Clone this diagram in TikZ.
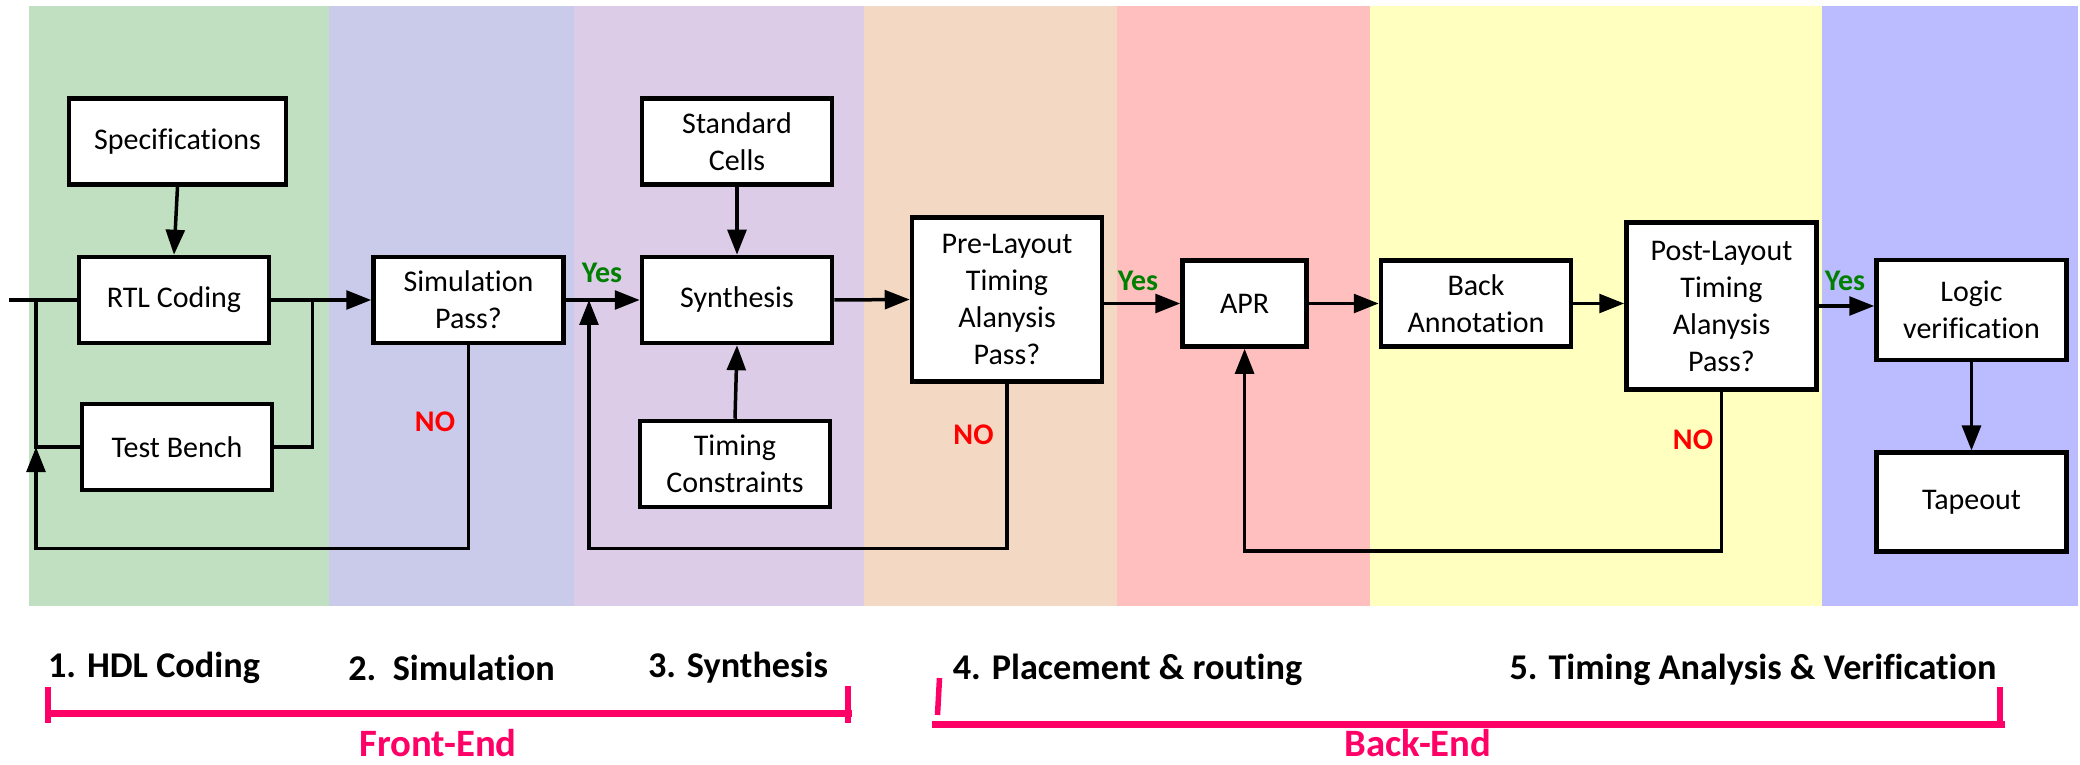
\documentclass[tikz,border=0pt]{standalone}
\usepackage{fontspec}
\setmainfont{Carlito}[Ligatures=NoCommon]
\usepackage{xcolor}
\usepackage{tikz}
\usetikzlibrary{shapes,arrows.meta,positioning,fit}

\definecolor{bandhdl}{RGB}{193,224,193}
\definecolor{bandsim}{RGB}{202,202,234}
\definecolor{bandsyn}{RGB}{220,204,232}
\definecolor{bandpre}{RGB}{243,217,196}
\definecolor{bandapr}{RGB}{255,191,191}
\definecolor{bandpost}{RGB}{255,255,192}
\definecolor{bandver}{RGB}{187,187,255}
\definecolor{yesgreen}{RGB}{0,128,0}
\definecolor{nored}{RGB}{255,0,0}
\definecolor{endpink}{RGB}{255,0,102}

\begin{document}
\begin{tikzpicture}[
    x=0.4pt, y=-0.4pt,
    stage/.style={rectangle, draw, line width=1.8pt, fill=white, minimum width=76pt, minimum height=34.4pt, align=center, inner sep=2pt, font=\fontsize{12}{14.8}\selectfont},
    arrow/.style={line width=1.4pt, -{Triangle[length=10pt,width=7.5pt]}},
    link/.style={line width=1.4pt},
    yes/.style={font=\fontsize{12}{14}\selectfont\bfseries, text=yesgreen},
    no/.style={font=\fontsize{12}{14}\selectfont\bfseries, text=nored},
    phase/.style={font=\fontsize{14.5}{17}\selectfont\bfseries},
    bracket/.style={line width=2.8pt, draw=endpink},
    side/.style={font=\fontsize{15.5}{18}\selectfont\bfseries, text=endpink}
]
    \useasboundingbox (0,0) rectangle (2080,765);

    % Background bands (one per stage)
    \fill[bandhdl] (29,6) rectangle (328.6,606);
    \fill[bandsim] (328.6,6) rectangle (573.7,606);
    \fill[bandsyn] (573.7,6) rectangle (864,606);
    \fill[bandpre] (864,6) rectangle (1117,606);
    \fill[bandapr] (1117,6) rectangle (1370,606);
    \fill[bandpost] (1370,6) rectangle (1822,606);
    \fill[bandver] (1822,6) rectangle (2078,606);

    % Front-end boxes
    \node [stage, minimum width=86.8pt] (spec) at (177.5,141.5) {Specifications};
    \node [stage] (rtl) at (174,300) {RTL Coding};
    \node [stage] (tb) at (177,447) {Test Bench};
    \node [stage] (sim) at (468.5,300) {Simulation\\Pass?};
    \node [stage] (std) at (737,141.5) {Standard\\Cells};
    \node [stage] (syn) at (737,300) {Synthesis};
    \node [stage] (tc) at (735,464) {Timing\\Constraints};
    \node [stage, minimum height=65.6pt] (pre) at (1007,299.5) {Pre-Layout\\Timing\\Alanysis\\Pass?};

    % Back-end boxes
    \node [stage, minimum width=49.6pt] (apr) at (1244.6,303.5) {APR};
    \node [stage] (back) at (1476,303.5) {Back\\Annotation};
    \node [stage, minimum height=66.6pt] (post) at (1721.5,306) {Post-Layout\\Timing\\Alanysis\\Pass?};
    \node [stage, minimum height=40pt] (logic) at (1971.5,310) {Logic\\verification};
    \node [stage, minimum height=39.4pt] (tape) at (1971.5,502) {Tapeout};

    \coordinate (entry) at (9,300);
    \coordinate (joinL) at (36,300);
    \coordinate (joinR) at (312.5,300);
    \coordinate (joinY) at (589,300);

    %--- Forward flow ---
    \draw [link] (entry) -- (rtl.west);
    \draw [arrow] (spec.south) -- (rtl.north);
    \draw [link] (tb.west) -| (joinL);
    \draw [link] (tb.east) -| (joinR);
    \draw [arrow] (rtl.east) -- (sim.west);
    \draw [arrow] (sim.east) -- (syn.west);
    \draw [arrow] (std.south) -- (syn.north);
    \draw [arrow] (tc.north) -- (syn.south);
    \draw [arrow] (syn.east) -- (pre.west);
    \draw [arrow] (pre.east |- apr.west) -- (apr.west);
    \draw [arrow] (apr.east) -- (back.west);
    \draw [arrow] (back.east) -- (back.east -| post.west);
    \draw [arrow] (post.east |- 0,306) -- (logic.west |- 0,306);
    \draw [arrow] (logic.south) -- (tape.north);

    %--- Feedback loops ---
    \draw [arrow] (sim.south) -- ++(0,203) -| (joinL |- tb.west);
    \draw [arrow] (pre.south) -- ++(0,164.5) -| (joinY);
    \draw [arrow] (post.south) -- ++(0,159.5) -| (apr.south);

    % Decision labels
    \node [yes] (yes1) at (602,273) {Yes};
    \node [yes] (yes2) at (1138,281) {Yes};
    \node [yes] (yes3) at (1845,281) {Yes};
    \node [no] (no1) at (435,422) {NO};
    \node [no] (no2) at (973.5,435) {NO};
    \node [no] (no3) at (1693,440) {NO};

    %--- Phase captions ---
    \node [phase] (hdlph) at (154,668) {1. HDL Coding};
    \node [phase] (simph) at (451.5,668) {2.\ \ Simulation};
    \node [phase] (synph) at (738,668) {3. Synthesis};
    \node [phase] (aprph) at (1127.5,670) {4. Placement \& routing};
    \node [phase] (staph) at (1753,670) {5. Timing Analysis \& Verification};

    % Front-End / Back-End brackets
    \draw [bracket] (45,713) -- (852,713);
    \draw [bracket, line width=2.2pt] (48,687) -- (48,723);
    \draw [bracket, line width=2.2pt] (848,686) -- (848,723);
    \node [side] (frontend) at (438,743) {Front-End};

    \draw [bracket] (932,724) -- (2005,724);
    \draw [bracket, line width=2.2pt] (939.5,678) -- (937.5,715);
    \draw [bracket, line width=2.2pt] (2000,687) -- (2000,724);
    \node [side] (backend) at (1418,743) {Back-End};

\end{tikzpicture}
\end{document}
